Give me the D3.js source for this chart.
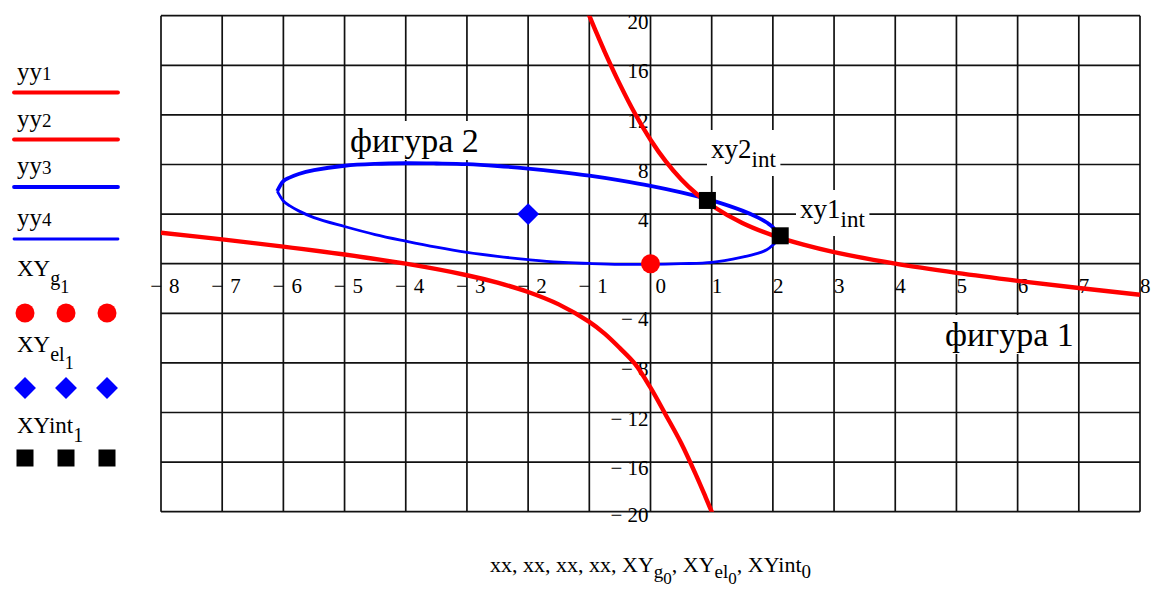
<!DOCTYPE html>
<html>
<head>
<meta charset="utf-8">
<script src="https://cdn.jsdelivr.net/npm/d3@7/dist/d3.min.js"></script>
<style>
  html, body { margin: 0; padding: 0; background: #fff; }
  svg { display: block; }
</style>
</head>
<body>
<svg id="chart" width="1152" height="595" font-family="'Liberation Serif', 'Times New Roman', 'DejaVu Serif', serif"></svg>
<script>
// ---- data ----
const xTicks = [-8, -7, -6, -5, -4, -3, -2, -1, 0, 1, 2, 3, 4, 5, 6, 7, 8];
const yTicks = [-20, -16, -12, -8, -4, 0, 4, 8, 12, 16, 20];

// hyperbola, upper branch (yy1)
const xx1 = [-1.05, -0.9, -0.75, -0.5, -0.25, 0, 0.25, 0.5, 0.75, 1, 1.5, 2, 2.5, 3, 4, 5, 6, 7, 8];
const yy1 = [20.59, 18.82, 17.11, 14.46, 12.07, 10.0, 8.25, 6.81, 5.64, 4.69, 3.28, 2.28, 1.53, 0.93, 0.0, -0.74, -1.38, -1.96, -2.50];

// hyperbola, lower branch (yy2)
const xx2 = [-8, -7, -6, -5, -4, -3, -2.5, -2, -1.5, -1, -0.75, -0.5, -0.25, 0, 0.25, 0.5, 0.75, 0.9, 1.05];
const yy2 = [2.50, 1.96, 1.38, 0.74, 0.0, -0.93, -1.53, -2.28, -3.28, -4.69, -5.64, -6.81, -8.1, -10.0, -12.2, -14.46, -17.11, -18.82, -20.59];

// ellipse, upper (yy3) and lower (yy4) halves
const xxE = [-6.1, -6.0, -5.9, -5.75, -5.5, -5, -4.5, -4, -3.5, -3, -2.5, -2, -1.5, -1, -0.5, 0, 0.5, 1, 1.5, 1.75, 1.9, 2.0, 2.1];
const yy3 = [5.85, 6.66, 6.94, 7.23, 7.54, 7.90, 8.05, 8.10, 8.08, 8.03, 7.88, 7.67, 7.41, 7.10, 6.72, 6.28, 5.75, 5.11, 4.28, 3.74, 3.32, 2.94, 2.09];
const yy4 = [5.85, 5.06, 4.68, 4.26, 3.72, 3.00, 2.35, 1.82, 1.33, 0.91, 0.59, 0.33, 0.12, 0.02, -0.05, -0.05, 0.0, 0.10, 0.53, 0.83, 1.12, 1.50, 2.09];

// special points
const XYg = [[0, 0]];            // hyperbola centre
const XYel = [[-2, 4]];          // ellipse centre
const XYint = [[2.12, 2.25], [0.93, 5.1]]; // intersection points

// ---- layout ----
const svg = d3.select("#chart");
const W = 1152, H = 595;
const plot = { left: 161, right: 1140, top: 15.7, bottom: 511.7 };

const x = d3.scaleLinear().domain([-8, 8]).range([plot.left, plot.right]);
const y = d3.scaleLinear().domain([-20, 20]).range([plot.bottom, plot.top]);

const RED = "#ff0000", BLUE = "#0000ff";

svg.append("rect").attr("width", W).attr("height", H).attr("fill", "#fff");

// grid
const grid = svg.append("g").attr("stroke", "#111").attr("stroke-width", 1.7);
grid.selectAll("line.vx").data(xTicks).join("line")
  .attr("x1", d => x(d)).attr("x2", d => x(d))
  .attr("y1", plot.top).attr("y2", plot.bottom);
grid.selectAll("line.hy").data(yTicks).join("line")
  .attr("x1", plot.left).attr("x2", plot.right)
  .attr("y1", d => y(d)).attr("y2", d => y(d));

// tick labels on the crossing axes
const tickFont = 21;
const xl = svg.append("g").attr("font-size", tickFont);
xTicks.forEach(v => {
  const base = y(0) + 29;
  if (v < 0) {
    xl.append("text").attr("x", x(v) + 1).attr("y", base).attr("text-anchor", "end").text("\u2212");
    xl.append("text").attr("x", x(v) + 8).attr("y", base).text(String(-v));
  } else {
    xl.append("text").attr("x", x(v) + (v === 0 ? 5 : 0)).attr("y", base).text(String(v));
  }
});
const yl = svg.append("g").attr("font-size", tickFont).attr("text-anchor", "end");
yTicks.filter(v => v !== 0).forEach(v => {
  const base = y(v) + (v === -20 ? 10 : 13);
  yl.append("text").attr("x", x(0) - 2).attr("y", base)
    .text(v < 0 ? "\u2212 " + (-v) : String(v));
});

// curves
const defs = svg.append("defs");
defs.append("clipPath").attr("id", "plotClip").append("rect")
  .attr("x", plot.left).attr("y", plot.top)
  .attr("width", plot.right - plot.left).attr("height", plot.bottom - plot.top);

const line = d3.line().x(d => x(d[0])).y(d => y(d[1])).curve(d3.curveCatmullRom.alpha(0.5));
const curves = svg.append("g").attr("clip-path", "url(#plotClip)").attr("fill", "none")
  .attr("stroke-linejoin", "round");

curves.append("path").attr("d", line(d3.zip(xxE, yy4))).attr("stroke", BLUE).attr("stroke-width", 2.8);
curves.append("path").attr("d", line(d3.zip(xxE, yy3))).attr("stroke", BLUE).attr("stroke-width", 3.8);
curves.append("path").attr("d", line(d3.zip(xx2, yy2))).attr("stroke", RED).attr("stroke-width", 4.4);
curves.append("path").attr("d", line(d3.zip(xx1, yy1))).attr("stroke", RED).attr("stroke-width", 4.4);

// annotation texts with white boxes
function boxedText(g, px, py, parts, pad) {
  const t = g.append("text").attr("x", px).attr("y", py);
  parts.forEach(p => {
    const ts = t.append("tspan").attr("font-size", p.size).text(p.text);
    if (p.dy) ts.attr("dy", p.dy);
  });
  const b = t.node().getBBox();
  g.insert("rect", () => t.node())
    .attr("x", b.x - pad[0]).attr("y", b.y - pad[1])
    .attr("width", b.width + pad[0] * 2).attr("height", b.height + pad[1] * 2)
    .attr("fill", "#fff");
  return t;
}
const ann = svg.append("g");
boxedText(ann.append("g"), 350, 152, [{ text: "фигура 2", size: 34 }], [4, 1]);
boxedText(ann.append("g"), 945, 346, [{ text: "фигура 1", size: 34 }], [4, 1]);
boxedText(ann.append("g"), 711, 158, [{ text: "xy2", size: 27 }, { text: "int", size: 23, dy: 9 }], [4, 4]);
boxedText(ann.append("g"), 800, 218, [{ text: "xy1", size: 27 }, { text: "int", size: 23, dy: 9 }], [4, 4]);

// point markers
const marks = svg.append("g");
marks.selectAll("circle").data(XYg).join("circle")
  .attr("cx", d => x(d[0])).attr("cy", d => y(d[1])).attr("r", 9.5).attr("fill", RED);
const dia = d3.symbol().type(d3.symbolSquare).size(15.5 * 15.5);
marks.selectAll("path.dia").data(XYel).join("path")
  .attr("d", dia).attr("fill", BLUE)
  .attr("transform", d => `translate(${x(d[0])},${y(d[1])}) rotate(45)`);
marks.selectAll("rect.int").data(XYint).join("rect")
  .attr("x", d => x(d[0]) - 8.5).attr("y", d => y(d[1]) - 8.5)
  .attr("width", 17).attr("height", 17).attr("fill", "#000");

// legend (trace names with samples)
const lg = svg.append("g");
function legendName(base, main, sub, subsub) {
  const t = lg.append("text").attr("x", 17).attr("y", base);
  t.append("tspan").attr("font-size", 23).text(main);
  if (sub) t.append("tspan").attr("font-size", 20).attr("dy", 9).text(sub);
  if (subsub) t.append("tspan").attr("font-size", 18).attr("dy", 8).text(subsub);
  return t;
}
function legendNum(base, main, num) {
  const t = lg.append("text").attr("x", 17).attr("y", base);
  t.append("tspan").attr("font-size", 25).text(main);
  t.append("tspan").attr("font-size", 19).text(num);
}
const lineRows = [
  { name: "yy", num: "1", base: 80, ly: 92.5, color: RED, w: 3.8 },
  { name: "yy", num: "2", base: 127, ly: 139.5, color: RED, w: 3.8 },
  { name: "yy", num: "3", base: 174, ly: 187, color: BLUE, w: 3.8 },
  { name: "yy", num: "4", base: 226, ly: 239, color: BLUE, w: 2.8 }
];
lineRows.forEach(r => {
  legendNum(r.base, r.name, r.num);
  lg.append("line").attr("x1", 14).attr("x2", 118).attr("y1", r.ly).attr("y2", r.ly)
    .attr("stroke", r.color).attr("stroke-width", r.w).attr("stroke-linecap", "round");
});
const sampleX = [25, 66, 107];
legendName(276, "XY", "g", "1");
lg.selectAll("circle").data(sampleX).join("circle")
  .attr("cx", d => d).attr("cy", 313).attr("r", 9.5).attr("fill", RED);
legendName(352, "XY", "el", "1");
lg.selectAll("path.d").data(sampleX).join("path")
  .attr("d", dia).attr("fill", BLUE)
  .attr("transform", d => `translate(${d},388) rotate(45)`);
legendName(433, "XYint", "1");
lg.selectAll("rect").data(sampleX).join("rect")
  .attr("x", d => d - 8.5).attr("y", 458 - 8.5).attr("width", 17).attr("height", 17).attr("fill", "#000");

// x-axis expression below the plot
const xt = svg.append("text").attr("x", 490).attr("y", 572).attr("font-size", 22);
const xtParts = [
  ["xx, xx, xx, xx, XY", 0, 22], ["g", 6, 19], ["0", 6, 17],
  [", XY", -12, 22], ["el", 6, 19], ["0", 6, 17],
  [", XYint", -12, 22], ["0", 6, 19]
];
xtParts.forEach(([s, dy, fs]) => {
  xt.append("tspan").attr("dy", dy).attr("font-size", fs).text(s);
});
</script>
</body>
</html>
